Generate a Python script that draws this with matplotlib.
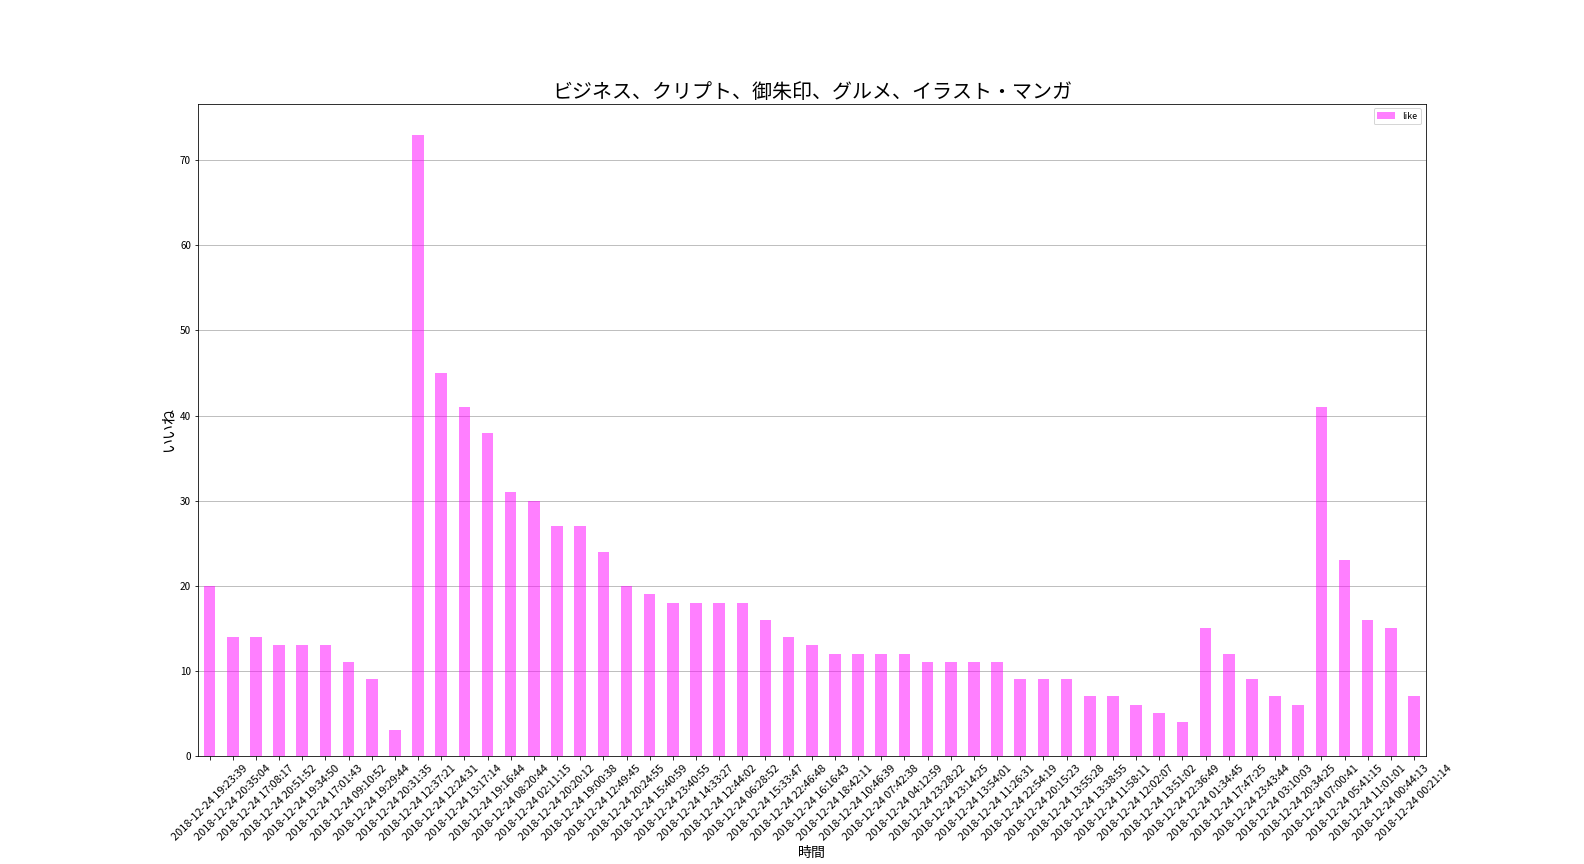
import matplotlib
matplotlib.use('Agg')
from matplotlib import pyplot as plt

plt.rcParams['font.family'] = ['Noto Sans CJK JP', 'DejaVu Sans']

times = [
    '19:23:39', '20:35:04', '17:08:17', '20:51:52', '19:34:50', '17:01:43',
    '09:10:52', '19:29:44', '20:31:35', '12:37:21', '12:24:31', '13:17:14',
    '19:16:44', '08:20:44', '02:11:15', '20:20:12', '19:00:38', '12:49:45',
    '20:24:55', '15:40:59', '23:40:55', '14:33:27', '12:44:02', '06:28:52',
    '15:33:47', '22:46:48', '16:16:43', '18:42:11', '10:46:39', '07:42:38',
    '04:12:59', '23:28:22', '23:14:25', '13:54:01', '11:26:31', '22:54:19',
    '20:15:23', '13:55:28', '13:38:55', '11:58:11', '12:02:07', '13:51:02',
    '22:36:49', '01:34:45', '17:47:25', '23:43:44', '03:10:03', '20:34:25',
    '07:00:41', '05:41:15', '11:01:01', '00:44:13', '00:21:14',
]
labels = ['2018-12-24 ' + t for t in times]
likes = [20, 14, 14, 13, 13, 13, 11, 9, 3, 73, 45, 41, 38, 31, 30, 27, 27, 24,
         20, 19, 18, 18, 18, 18, 16, 14, 13, 12, 12, 12, 12, 11, 11, 11, 11, 9,
         9, 9, 7, 7, 6, 5, 4, 15, 12, 9, 7, 6, 41, 23, 16, 15, 7]

fig, ax = plt.subplots(figsize=(22, 12), dpi=72)
fig.subplots_adjust(left=0.125, right=0.9, top=0.88, bottom=0.125)

x = range(len(likes))
ax.bar(x, likes, width=0.5, color='magenta', alpha=0.5, label='like', zorder=2)
ax.set_xlim(-0.5, len(likes) - 0.5)
ax.set_xticks(list(x))
ax.set_xticklabels(labels, rotation=45, fontsize=11)
ax.grid(axis='y', color='#b0b0b0', zorder=0)
ax.set_title('ビジネス、クリプト、御朱印、グルメ、イラスト・マンガ', fontsize=20)
ax.set_xlabel('時間', fontsize=14, labelpad=4)
ax.set_ylabel('いいね', fontsize=15)
ax.legend(loc='upper right', fontsize=9)

fig.savefig('out.png')
